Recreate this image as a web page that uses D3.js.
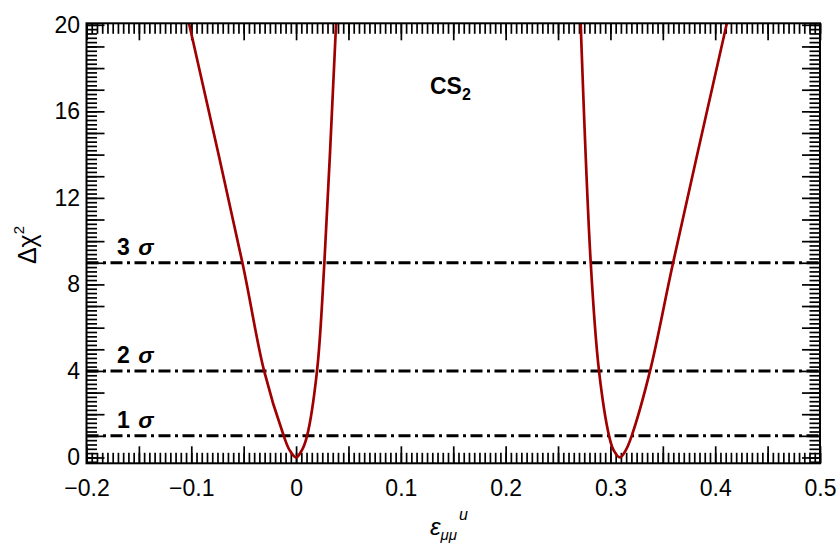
<!DOCTYPE html>
<html>
<head>
<meta charset="utf-8">
<script src="https://cdn.jsdelivr.net/npm/d3@7"></script>
<style>
    body { margin: 0; background: #fff; }
    text { font-family: "Liberation Sans", Arial, Helvetica, sans-serif; }
</style>
</head>
<body>
<div id="svgcontainer"></div>
<script>
// left minimum (near 0)
const leftEps = [-0.1022, -0.0512, -0.0305, -0.0118, -0.0062, 0.0,
    0.0056, 0.0105, 0.0200, 0.0270, 0.0382]
const leftChi2 = [20.07, 9, 4, 1, 0.34, 0,
    0.34, 1, 4, 9, 20.07]

// right minimum (near 0.31)
const rightEps = [0.2716, 0.2812, 0.2891, 0.2987, 0.3030, 0.3092,
    0.3147, 0.3203, 0.3378, 0.3598, 0.4111]
const rightChi2 = [20.07, 9, 4, 1, 0.34, 0,
    0.34, 1, 4, 9, 20.07]

const sigmaLevels = [1, 4, 9]
const sigmaNames = ["1", "2", "3"]

const xLabels = [-0.2, -0.1, 0, 0.1, 0.2, 0.3, 0.4, 0.5]
const yLabels = [0, 4, 8, 12, 16, 20]

const WIDTH = 838
const HEIGHT = 543
const LEFT = 86.5
const RIGHT = 820
const TOP = 23.3
const BOTTOM = 463.3
const CURVE_COLOR = "#a00000"

const x = d3.scaleLinear().domain([-0.2, 0.5]).range([LEFT, RIGHT])
const y = d3.scaleLinear().domain([-0.27, 20.07]).range([BOTTOM, TOP])

const svg = d3.select("#svgcontainer")
    .append("svg")
    .attr("width", WIDTH)
    .attr("height", HEIGHT)
    .attr("viewBox", [0, 0, WIDTH, HEIGHT])

svg.append("rect")
    .attr("width", WIDTH)
    .attr("height", HEIGHT)
    .attr("fill", "#fff")

svg.append("clipPath")
    .attr("id", "plotclip")
    .append("rect")
    .attr("x", LEFT)
    .attr("y", TOP)
    .attr("width", RIGHT - LEFT)
    .attr("height", BOTTOM - TOP)

// tick positions
let xMajor = d3.range(0, 15).map(i => +(-0.2 + i * 0.05).toFixed(3))
let xMinor = d3.range(0, 141).map(i => +(-0.2 + i * 0.005).toFixed(4))
let yMajor = d3.range(0, 21)
let yMinor = d3.range(-1, 101).map(i => +(i * 0.2).toFixed(2))

function tickAxis(axis, values, size, transform) {
    let g = svg.append("g")
        .attr("transform", transform)
        .call(axis.tickValues(values).tickSize(size).tickFormat(""))
    g.select(".domain").remove()
    g.selectAll("line")
        .attr("stroke", "#000")
        .attr("stroke-width", 1.7)
    return g
}

const MAJ = 17
const MIN = 10.5

tickAxis(d3.axisBottom(x), xMinor, -MIN, `translate(0 ${BOTTOM})`)
tickAxis(d3.axisBottom(x), xMajor, -MAJ, `translate(0 ${BOTTOM})`)
tickAxis(d3.axisTop(x), xMinor, -MIN, `translate(0 ${TOP})`)
tickAxis(d3.axisTop(x), xMajor, -MAJ, `translate(0 ${TOP})`)
tickAxis(d3.axisLeft(y), yMinor, -MIN, `translate(${LEFT} 0)`)
tickAxis(d3.axisLeft(y), yMajor, -18, `translate(${LEFT} 0)`)
tickAxis(d3.axisRight(y), yMinor, -MIN, `translate(${RIGHT} 0)`)
tickAxis(d3.axisRight(y), yMajor, -18, `translate(${RIGHT} 0)`)

// tick labels
let fmt = d => d === 0 ? "0" : d3.format(".1f")(d)
let xl = svg.append("g")
    .attr("transform", `translate(0 ${BOTTOM})`)
    .call(d3.axisBottom(x).tickValues(xLabels).tickSize(0).tickPadding(16.2).tickFormat(fmt))
xl.select(".domain").remove()
xl.selectAll("text")
    .attr("font-size", 23)
    .attr("font-family", "Liberation Sans, Arial, sans-serif")
    .attr("fill", "#000")

let yl = svg.append("g")
    .attr("transform", `translate(${LEFT} 0)`)
    .call(d3.axisLeft(y).tickValues(yLabels).tickSize(0).tickPadding(6.5))
yl.select(".domain").remove()
yl.selectAll("text")
    .attr("font-size", 23)
    .attr("font-family", "Liberation Sans, Arial, sans-serif")
    .attr("fill", "#000")

// sigma lines
svg.append("g")
    .selectAll("line")
    .data(sigmaLevels)
    .join("line")
        .attr("x1", x(-0.2))
        .attr("x2", x(0.5))
        .attr("y1", d => y(d))
        .attr("y2", d => y(d))
        .attr("stroke", "#000")
        .attr("stroke-width", 3)
        .attr("stroke-dasharray", "12 4.5 3 4.5")

svg.append("g")
    .selectAll("text")
    .data(sigmaLevels)
    .join("text")
        .attr("x", 117)
        .attr("y", d => y(d) - 7.5)
        .attr("font-size", 23)
        .attr("font-weight", "bold")
        .each(function(d, i) {
            let t = d3.select(this)
            t.append("tspan").text(sigmaNames[i] + " ")
            t.append("tspan").attr("font-style", "italic").attr("dx", 2).text("σ")
        })

// chi2 curves
let line = d3.line()
    .x(d => x(d[0]))
    .y(d => y(d[1]))
    .curve(d3.curveCatmullRom.alpha(0.5))

let curves = [d3.zip(leftEps, leftChi2), d3.zip(rightEps, rightChi2)]

svg.append("g")
    .attr("clip-path", "url(#plotclip)")
    .selectAll("path")
    .data(curves)
    .join("path")
        .attr("d", line)
        .attr("fill", "none")
        .attr("stroke", CURVE_COLOR)
        .attr("stroke-width", 2.7)

// frame
svg.append("rect")
    .attr("x", LEFT)
    .attr("y", TOP)
    .attr("width", RIGHT - LEFT)
    .attr("height", BOTTOM - TOP)
    .attr("fill", "none")
    .attr("stroke", "#000")
    .attr("stroke-width", 2)

// CS2 label
let cs = svg.append("text")
    .attr("x", 430)
    .attr("y", 94)
    .attr("font-size", 23)
    .attr("font-weight", "bold")
cs.append("tspan").text("CS")
cs.append("tspan").attr("font-size", 16).attr("dy", 6).text("2")

// axis titles
let yt = svg.append("text")
    .attr("transform", "translate(36 245) rotate(-90)")
    .attr("text-anchor", "middle")
    .attr("font-size", 25)
yt.append("tspan").text("Δχ")
yt.append("tspan").attr("font-size", 15).attr("dy", -12).text("2")

let xt = svg.append("text")
    .attr("x", 430)
    .attr("y", 535)
    .attr("font-size", 24)
xt.append("tspan").attr("font-style", "italic").text("ε")
xt.append("tspan").attr("font-style", "italic").attr("font-size", 15).attr("dy", 5).text("μμ")
xt.append("tspan").attr("font-style", "italic").attr("font-size", 16).attr("dx", 2).attr("dy", -20).text("u")
</script>
</body>
</html>
